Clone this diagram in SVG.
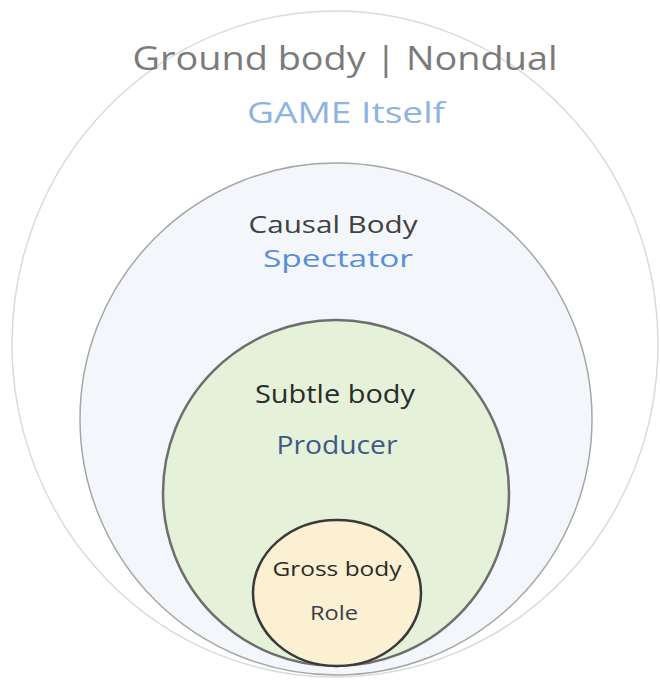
<svg xmlns="http://www.w3.org/2000/svg" width="660" height="680" viewBox="0 0 660 680">
<style>
text{font-family:"Open Sans","Liberation Sans",sans-serif;text-anchor:middle}
.ring{stroke-linejoin:round}
</style>
<rect width="660" height="680" fill="#ffffff"/>
<g id="ground">
<ellipse class="ring" cx="335" cy="344" rx="323" ry="333" fill="#ffffff" stroke="#dadada" stroke-width="1.5"/>
<text x="345" y="70" font-size="33" textLength="425" lengthAdjust="spacingAndGlyphs" fill="#7b7b7b">Ground body | Nondual</text>
<text x="346" y="123" font-size="29" textLength="198" lengthAdjust="spacingAndGlyphs" fill="#8db3e2">GAME Itself</text>
</g>
<g id="causal">
<circle class="ring" cx="336" cy="419" r="256" fill="#f3f7fb" stroke="#a6a6a6" stroke-width="1.5"/>
<text x="333" y="233" font-size="24" textLength="169" lengthAdjust="spacingAndGlyphs" fill="#404040">Causal Body</text>
<text x="338" y="267" font-size="24" textLength="150" lengthAdjust="spacingAndGlyphs" fill="#5a8fd6">Spectator</text>
</g>
<g id="subtle">
<circle class="ring" cx="336" cy="493" r="173" fill="#e6f1d9" stroke="#6e6e6e" stroke-width="2.5"/>
<text x="335" y="403" font-size="25" textLength="160" lengthAdjust="spacingAndGlyphs" fill="#2b2b2b">Subtle body</text>
<text x="337" y="454" font-size="25" textLength="121" lengthAdjust="spacingAndGlyphs" fill="#3e5a86">Producer</text>
</g>
<g id="gross">
<ellipse class="ring" cx="337" cy="593" rx="84" ry="73" fill="#fbf0d1" stroke="#3a3a3a" stroke-width="2.5"/>
<text x="337" y="576" font-size="20" textLength="129" lengthAdjust="spacingAndGlyphs" fill="#2b2b2b">Gross body</text>
<text x="334" y="620" font-size="20" textLength="48" lengthAdjust="spacingAndGlyphs" fill="#3c3c4a">Role</text>
</g>
<g id="connectors"/>
</svg>
